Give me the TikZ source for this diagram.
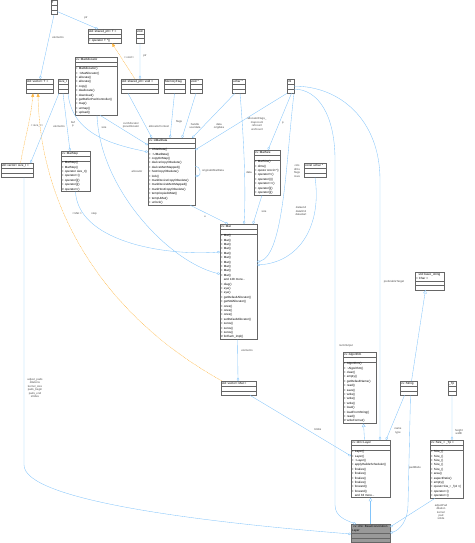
\documentclass[tikz,border=0pt]{standalone}
\usepackage{fontspec}
\setmainfont{Liberation Sans}
\usetikzlibrary{shapes.multipart,arrows.meta}

\definecolor{edgeblue}{RGB}{130,196,250}
\definecolor{tplorange}{RGB}{255,180,60}
\definecolor{boxgray}{RGB}{102,102,102}
\definecolor{basegray}{RGB}{153,153,153}

\newcommand\clsfont{\fontsize{3}{4.4}\selectfont}
\newcommand\lblfont{\fontsize{2.8}{3.4}\selectfont}
\newcommand\clsname[1]{\centering\rule[-0.9pt]{0pt}{3.3pt}\mbox{#1}}
\newcommand\nomem{\nodepart{two}\rule{0pt}{2.8pt}\nodepart{three}\rule{0pt}{2.8pt}}
\newcommand\members{\nodepart{two}\rule{0pt}{2.8pt}\nodepart{three}}

\begin{document}
\begin{tikzpicture}[x=1pt,y=-1pt,
    cls/.style={rectangle split, rectangle split parts=3, draw=boxgray, line width=0.3pt,
      fill=white, inner xsep=1pt, inner ysep=0.7pt, anchor=north west, align=left, font=\clsfont},
    use/.style={draw=edgeblue, line width=0.35pt, -{Diamond[open,length=3.5pt,width=2.4pt]}},
    inh/.style={draw=edgeblue, line width=0.35pt, {Triangle[open,length=3.5pt,width=3.5pt]}-},
    tpl/.style={draw=tplorange, line width=0.35pt, dash pattern=on 1pt off 0.6pt, {Triangle[length=3.5pt,width=3pt]}-},
    lbl/.style={font=\lblfont, text=black!70, align=center, inner sep=0pt}]
  \useasboundingbox (0,0) rectangle (474,543);

  % 顶部：模板参数与智能指针
  \node[cls,text width=4.7pt] (t) at (50.5,0.5) {\clsname{T}\nomem};
  \node[cls,text width=30.7pt] (sptrt) at (88,29) {\clsname{std::shared\_ptr< T >}\members +~operator T *()};
  \node[cls,text width=5.7pt] (voidn) at (136,29) {\clsname{void}\nomem};
  \node[cls,text width=39.7pt] (alloc) at (75,57) {\clsname{cv::MatAllocator}\members
    +~MatAllocator()\\ +~\textasciitilde MatAllocator()\\ +~allocate()\\ +~allocate()\\ +~copy()\\
    +~deallocate()\\ +~download()\\ +~getBufferPoolController()\\ +~map()\\ +~unmap()\\ +~upload()};

  % 第二行：基本类型
  \node[cls,text width=24.7pt] (vect) at (26,79) {\clsname{std::vector< T >}\nomem};
  \node[cls,text width=7.7pt] (sizet) at (58,79) {\clsname{size\_t}\nomem};
  \node[cls,text width=34.7pt] (sptrv) at (121,79) {\clsname{std::shared\_ptr< void >}\nomem};
  \node[cls,text width=18.7pt] (memflag) at (164,79) {\clsname{MemoryFlag}\nomem};
  \node[cls,text width=9.7pt] (voidp) at (190,79) {\clsname{void *}\nomem};
  \node[cls,text width=10.7pt] (ucharp) at (232,79) {\clsname{uchar *}\nomem};
  \node[cls,text width=4.7pt] (intn) at (287,79) {\clsname{int}\nomem};

  % Mat 及其成员
  \node[cls,text width=30.7pt] (vecs) at (0.5,163) {\clsname{std::vector< size\_t >}\nomem};
  \node[cls,text width=26.7pt] (mstep) at (61,151) {\clsname{cv::MatStep}\members
    +~MatStep()\\ +~MatStep()\\ +~operator size\_t()\\ +~operator=()\\ +~operator[]()\\ +~operator[]()\\ \#~operator=()};
  \node[cls,text width=44.7pt] (umat) at (148,138) {\clsname{cv::UMatData}\members
    +~UMatData()\\ +~\textasciitilde UMatData()\\ +~copyOnMap()\\ +~deviceCopyObsolete()\\ +~deviceMemMapped()\\
    +~hostCopyObsolete()\\ +~lock()\\ +~markDeviceCopyObsolete()\\ +~markDeviceMemMapped()\\
    +~markHostCopyObsolete()\\ +~tempCopiedUMat()\\ +~tempUMat()\\ +~unlock()};
  \node[cls,text width=23.7pt] (msize) at (254,150) {\clsname{cv::MatSize}\members
    +~MatSize()\\ +~dims()\\ +~\scalebox{0.75}[1]{operator~const~int~*()}\\ +~operator!=()\\
    +~operator()()\\ +~operator==()\\ +~operator[]()\\ +~operator[]()};
  \node[cls,text width=19.7pt] (cuchar) at (304,163) {\clsname{const uchar *}\nomem};
  \node[cls,text width=34.7pt] (mat) at (220,224) {\clsname{cv::Mat}\members
    +~Mat()\\ +~Mat()\\ +~Mat()\\ +~Mat()\\ +~Mat()\\ +~Mat()\\ +~Mat()\\ +~Mat()\\ +~Mat()\\ +~Mat()\\
    \phantom{+}~and~128~more...\\ +~diag()\\ +~eye()\\ +~eye()\\ +~getDefaultAllocator()\\ +~getStdAllocator()\\
    +~ones()\\ +~ones()\\ +~ones()\\ +~setDefaultAllocator()\\ +~zeros()\\ +~zeros()\\ +~zeros()\\ \#~forEach\_impl()};
  \node[cls,text width=32.7pt] (vecm) at (221,381) {\clsname{std::vector< Mat >}\nomem};

  % 右侧：Algorithm、Layer、Size_
  \node[cls,text width=26.7pt] (bstr) at (415,272) {\centering\rule[-0.9pt]{0pt}{3.3pt}std::basic\_string\\< Char >\nomem};
  \node[cls,text width=30.7pt] (algo) at (343,352) {\clsname{cv::Algorithm}\members
    +~Algorithm()\\ +~\textasciitilde Algorithm()\\ +~clear()\\ +~empty()\\ +~getDefaultName()\\ +~read()\\ +~save()\\
    +~write()\\ +~write()\\ +~write()\\ +~load()\\ +~loadFromString()\\ +~read()\\ \#~writeFormat()};
  \node[cls,text width=14.7pt] (str) at (400,381) {\clsname{cv::String}\nomem};
  \node[cls,text width=5.7pt] (tp) at (448,381) {\clsname{\_Tp}\nomem};
  \node[cls,text width=36.7pt] (layer) at (351,440) {\clsname{cv::dnn::Layer}\members
    +~Layer()\\ +~Layer()\\ +~\textasciitilde Layer()\\ +~applyHalideScheduler()\\ +~finalize()\\ +~finalize()\\
    +~finalize()\\ +~finalize()\\ +~forward()\\ +~forward()\\ \phantom{+}~and~33~more...};
  \node[cls,text width=30.7pt] (sizetp) at (430,440) {\clsname{cv::Size\_< \_Tp >}\members
    +~Size\_()\\ +~Size\_()\\ +~Size\_()\\ +~Size\_()\\ +~Size\_()\\ +~area()\\ +~aspectRatio()\\ +~empty()\\
    +~\scalebox{0.8}[1]{operator~Size\_<~\_Tp2~>()}\\ +~operator=()\\ +~operator=()};
  \node[cls,text width=36.7pt,fill=basegray] (base) at (351,524) {\centering\rule[-0.9pt]{0pt}{3.3pt}cv::dnn::BaseConvolution\\Layer\nomem};

  % 模板实例（橙色）
  \draw[tpl] ([xshift=24pt]sptrt.south west) -- ([xshift=14pt]sptrv.north west) node[lbl] (l-void) at (129,57) {< void >};
  \draw[tpl] ([xshift=7pt]vect.south west) to[out=-95,in=80] ([xshift=20pt]vecs.north west) node[lbl] (l-sz) at (37,126) {< size\_t >};
  \draw[tpl] ([xshift=12pt]vect.south west) .. controls (40,200) and (95,310) .. ([xshift=1pt]vecm.north west) node[lbl] (l-mat) at (77,214) {< Mat >};

  % 继承
  \draw[inh] ([xshift=4pt]algo.south) -- ([xshift=-6pt]layer.north);
  \draw[inh] (layer.south) -- (base.north);
  \draw[inh] ([xshift=-4pt]bstr.south) -- ([xshift=3pt]str.north);

  % 成员关系：上部
  \draw[use] ([yshift=-4pt]t.east) -- ([xshift=10pt]sptrt.north west) node[lbl] (l-ptr1) at (86,18) {ptr};
  \draw[use] (t.south) -- ([xshift=14pt]vect.north west) node[lbl] (l-elt) at (58,37) {elements};
  \draw[use] (voidn.south) -- ([xshift=19pt]sptrv.north west) node[lbl] (l-ptr2) at (145,56) {ptr};
  \draw[use] ([xshift=1pt]sizet.south west) -- ([xshift=-3pt]vecs.north east) node[lbl] (l-els) at (59,126) {elements};
  \draw[use] (sizet.south) -- ([xshift=9pt]mstep.north west) node[lbl] (l-buf) at (73,124) {buf\\p};
  \draw[use] (sizet.south east) .. controls (72,135) and (115,145) .. ([yshift=-14pt]umat.north west) node[lbl] (l-size) at (104,127) {size};

  % UMatData 的成员
  \draw[use] ([xshift=25pt]alloc.south west) -- ([yshift=-7pt]umat.north west) node[lbl] (l-cur) at (131,125) {currAllocator\\prevAllocator};
  \draw[use] ([xshift=7pt]sptrv.south west) -- ([xshift=4pt]umat.north west) node[lbl] (l-ctx) at (159,126) {allocatorContext};
  \draw[use] (memflag.south) -- ([xshift=22pt]umat.north west) node[lbl] (l-flags) at (179,122) {flags};
  \draw[use] (voidp.south) -- ([xshift=34pt]umat.north west) node[lbl] (l-hnd) at (195,126) {handle\\userdata};
  \draw[use] ([xshift=3pt]ucharp.south west) -- ([xshift=-3pt]umat.north east) node[lbl] (l-odata) at (219,126) {data\\origdata};
  \draw[use] (intn.south west) -- ([yshift=-12pt]umat.north east) node[lbl] (l-cnt) at (257,124) {allocatorFlags\_\\mapcount\\refcount\\urefcount};
  \draw[use] ([yshift=-28pt]umat.north east) to[out=0,in=0,looseness=1.6] ([yshift=-38pt]umat.north east) node[lbl] (l-orig) at (213,171) {originalUMatData};

  % Mat 的成员
  \draw[use] ([xshift=1pt]intn.south) -- ([xshift=14pt]msize.north west) node[lbl] (l-p) at (283,123) {p};
  \draw[use] (intn.south east) .. controls (286,160) and (284,255) .. ([yshift=-38pt]mat.north east) node[lbl] (l-dims) at (297,171) {cols\\dims\\flags\\rows};
  \draw[use] (cuchar.south) .. controls (322,225) and (300,262) .. ([yshift=-41pt]mat.north east) node[lbl] (l-dend) at (301,211) {dataend\\datalimit\\datastart};
  \draw[use] ([xshift=8pt]ucharp.south west) .. controls (244,140) and (246,190) .. ([xshift=24pt]mat.north west) node[lbl] (l-data) at (249,172) {data};
  \draw[use] ([xshift=8pt]msize.south west) -- ([xshift=33pt]mat.north west) node[lbl] (l-msize) at (264,211) {size};
  \draw[use] ([xshift=-5pt]umat.south east) -- ([xshift=8pt]mat.north west) node[lbl] (l-u) at (205,217) {u};
  \draw[use] ([xshift=22pt]alloc.south west) .. controls (100,190) and (170,262) .. ([yshift=-50pt]mat.north west) node[lbl] (l-alloc) at (137,171) {allocator};
  \draw[use] (mstep.south) .. controls (78,240) and (160,256) .. ([yshift=-28pt]mat.north west) node[lbl] (l-step) at (94,214) {step};
  \draw[use] ([xshift=-1pt]mat.south) -- ([xshift=17pt]vecm.north west) node[lbl] (l-elm) at (247,350) {elements};

  % Layer 与 BaseConvolutionLayer 的成员
  \draw[use] ([xshift=-6pt]vecm.south east) -- ([yshift=-16pt]layer.north west) node[lbl] (l-blobs) at (318,429) {blobs};
  \draw[use] ([xshift=-4pt]str.south) -- ([xshift=-4pt]layer.north east) node[lbl] (l-name) at (398,431) {name\\type};
  \draw[use] (intn.east) .. controls (340,86) and (380,120) .. (380,180) -- ([xshift=29pt]layer.north west) node[lbl] (l-pref) at (394,282) {preferableTarget};
  \draw[use] ([yshift=-3pt]intn.east) .. controls (318,89) and (335,115) .. (335,160) -- (335,505)
    .. controls (335,516) and (345,520) .. ([xshift=5pt]base.north west) node[lbl] (l-num) at (346,346) {numOutput};
  \draw[use] ([xshift=2pt]str.south) -- (408,505) .. controls (408,520) and (400,530) .. ([yshift=-9pt]base.north east) node[lbl] (l-pad) at (415,468) {padMode};
  \draw[use] (tp.south) -- ([xshift=22pt]sizetp.north west) node[lbl] (l-hw) at (459,432) {height\\width};
  \draw[use] ([xshift=5pt]sizetp.south west) -- ([yshift=-3pt]base.north east) node[lbl] (l-kern) at (441,512) {adjustPad\\dilation\\kernel\\pad\\stride};
  \draw[use] ([xshift=7pt]vecs.south) -- (24,465) .. controls (24,500) and (200,522) .. ([yshift=-10pt]base.north west)
    node[lbl] (l-pads) at (35,388) {adjust\_pads\\dilations\\kernel\_size\\pads\_begin\\pads\_end\\strides};
\end{tikzpicture}
\end{document}
